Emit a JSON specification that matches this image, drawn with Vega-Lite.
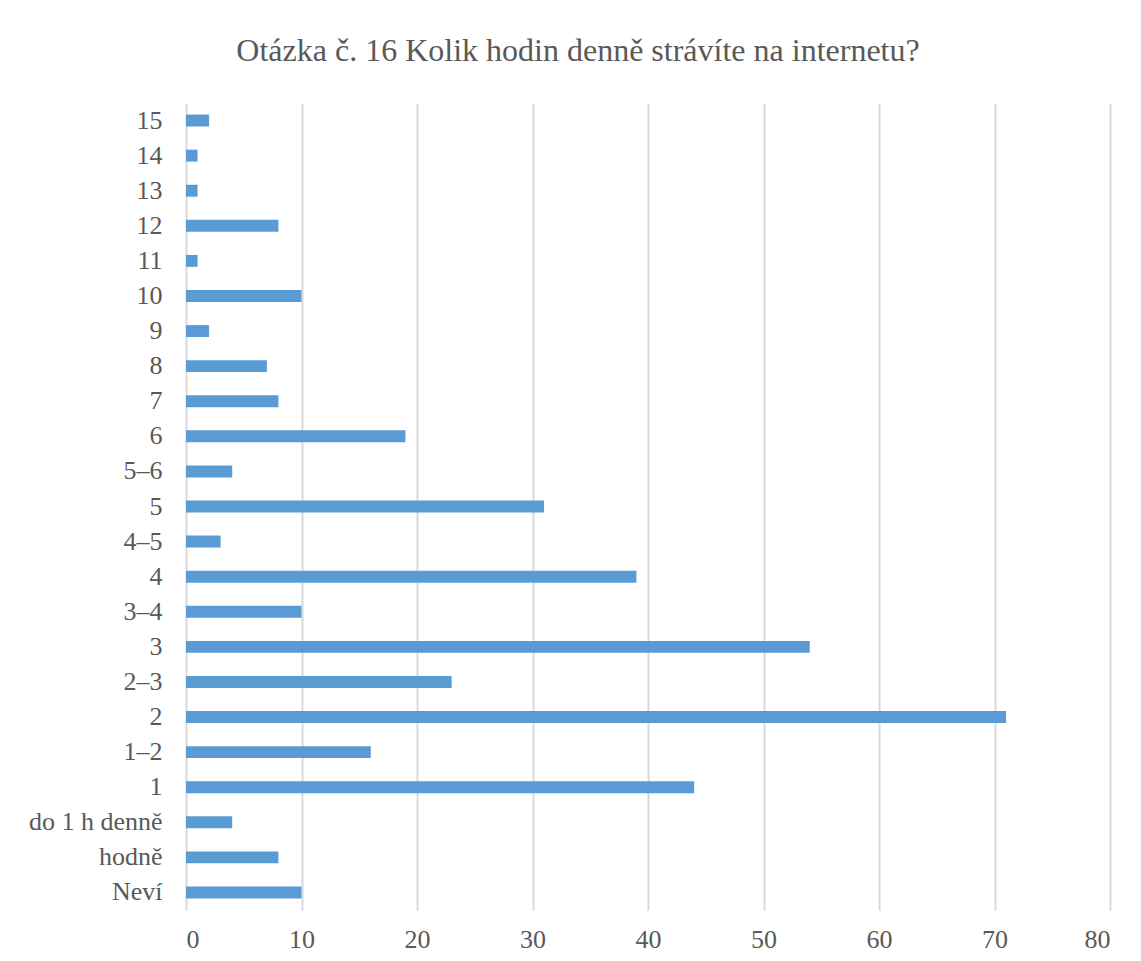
{
  "$schema": "https://vega.github.io/schema/vega-lite/v6.json",
  "autosize": "none",
  "width": 924,
  "height": 807,
  "padding": {"left": 186, "top": 103, "right": 31, "bottom": 51},
  "background": "white",
  "title": {
    "text": "Otázka č. 16 Kolik hodin denně strávíte na internetu?",
    "font": "Liberation Serif",
    "fontSize": 32,
    "fontWeight": "normal",
    "color": "#595959",
    "anchor": "middle",
    "baseline": "alphabetic",
    "offset": 10,
    "dx": -70
  },
  "data": {
    "values": [
      {"kategorie": "15", "pocet": 2},
      {"kategorie": "14", "pocet": 1},
      {"kategorie": "13", "pocet": 1},
      {"kategorie": "12", "pocet": 8},
      {"kategorie": "11", "pocet": 1},
      {"kategorie": "10", "pocet": 10},
      {"kategorie": "9", "pocet": 2},
      {"kategorie": "8", "pocet": 7},
      {"kategorie": "7", "pocet": 8},
      {"kategorie": "6", "pocet": 19},
      {"kategorie": "5–6", "pocet": 4},
      {"kategorie": "5", "pocet": 31},
      {"kategorie": "4–5", "pocet": 3},
      {"kategorie": "4", "pocet": 39},
      {"kategorie": "3–4", "pocet": 10},
      {"kategorie": "3", "pocet": 54},
      {"kategorie": "2–3", "pocet": 23},
      {"kategorie": "2", "pocet": 71},
      {"kategorie": "1–2", "pocet": 16},
      {"kategorie": "1", "pocet": 44},
      {"kategorie": "do 1 h denně", "pocet": 4},
      {"kategorie": "hodně", "pocet": 8},
      {"kategorie": "Neví", "pocet": 10}
    ]
  },
  "mark": {"type": "bar", "color": "#5B9BD5"},
  "encoding": {
    "y": {
      "field": "kategorie",
      "type": "nominal",
      "sort": null,
      "scale": {"paddingInner": 0.66, "paddingOuter": 0.33},
      "axis": {
        "title": null,
        "domain": false,
        "ticks": false,
        "grid": false,
        "labelFont": "Liberation Serif",
        "labelFontSize": 26,
        "labelColor": "#595959",
        "labelPadding": 24
      }
    },
    "x": {
      "field": "pocet",
      "type": "quantitative",
      "scale": {"domain": [0, 80], "nice": false},
      "axis": {
        "title": null,
        "values": [0, 10, 20, 30, 40, 50, 60, 70, 80],
        "domain": false,
        "ticks": false,
        "grid": true,
        "gridColor": "#d9d9d9",
        "gridWidth": 2,
        "labelFont": "Liberation Serif",
        "labelFontSize": 26,
        "labelColor": "#595959",
        "labelPadding": 16
      }
    }
  },
  "config": {"view": {"stroke": null}}
}
